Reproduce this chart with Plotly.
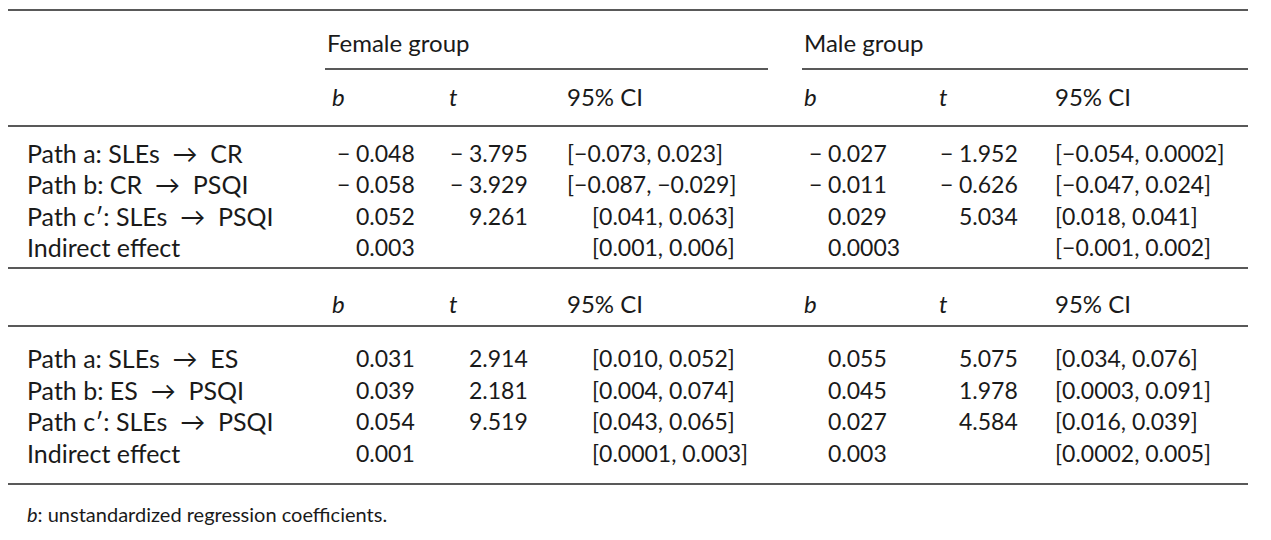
import plotly.graph_objects as go

row_labels_1 = ["Path a: SLEs  →  CR", "Path b: CR  →  PSQI", "Path c′: SLEs  →  PSQI", "Indirect effect"]
row_labels_2 = ["Path a: SLEs  →  ES", "Path b: ES  →  PSQI", "Path c′: SLEs  →  PSQI", "Indirect effect"]
f_b1 = ["−0.048", "−0.058", "0.052", "0.003"]
f_t1 = ["−3.795", "−3.929", "9.261", ""]
f_ci1 = ["[−0.073, 0.023]", "[−0.087, −0.029]", "[0.041, 0.063]", "[0.001, 0.006]"]
m_b1 = ["−0.027", "−0.011", "0.029", "0.0003"]
m_t1 = ["−1.952", "−0.626", "5.034", ""]
m_ci1 = ["[−0.054, 0.0002]", "[−0.047, 0.024]", "[0.018, 0.041]", "[−0.001, 0.002]"]
f_b2 = ["0.031", "0.039", "0.054", "0.001"]
f_t2 = ["2.914", "2.181", "9.519", ""]
f_ci2 = ["[0.010, 0.052]", "[0.004, 0.074]", "[0.043, 0.065]", "[0.0001, 0.003]"]
m_b2 = ["0.055", "0.045", "0.027", "0.003"]
m_t2 = ["5.075", "1.978", "4.584", ""]
m_ci2 = ["[0.034, 0.076]", "[0.0003, 0.091]", "[0.016, 0.039]", "[0.0002, 0.005]"]
headers = ["b", "t", "95% CI"]
groups = ["Female group", "Male group"]
footnote = "<i>b</i>: unstandardized regression coefficients."

FONT = dict(family="Lato, Open Sans, sans-serif", size=23, color="#1a1a1a")
ann = []
def txt(x, y, s, anchor="left", size=23):
    if s:
        ann.append(dict(x=x, y=y, text=s, xref="x", yref="y", showarrow=False,
                        xanchor=anchor, yanchor="middle", font=dict(FONT, size=size)))

def num(x, y, s):
    if not s:
        return
    if s.startswith("−"):
        txt(x - 2, y, "−", "right")
        s = s[1:]
    txt(x, y, s)

shapes = []
def hline(x0, x1, y, w=1.5):
    shapes.append(dict(type="line", xref="x", yref="y", x0=x0, x1=x1, y0=y, y1=y,
                       line=dict(color="#222", width=w)))

hline(0, 1248, 10); hline(325, 768, 69); hline(802, 1248, 69)
hline(0, 1248, 126); hline(0, 1248, 268); hline(0, 1248, 326); hline(0, 1248, 484)

txt(325, 42, groups[0], size=24); txt(802, 42, groups[1], size=24)
for hy in (96, 303):
    for x, h in zip([330, 447, 565, 802, 937, 1053], headers * 2):
        txt(x, hy, "<i>%s</i>" % h if h != "95% CI" else h, size=24)

def block(ys, labels, fb, ft, fci, mb, mt, mci, second):
    for i, y in enumerate(ys):
        txt(25, y, labels[i], size=25)
        num(354, y, fb[i]); num(467, y, ft[i])
        fx = 590 if (second or not fci[i].startswith("[−")) else 565
        txt(fx, y, fci[i])
        num(826, y, mb[i]); num(957, y, mt[i])
        txt(1053, y, mci[i])

block([153, 184, 216, 247], row_labels_1, f_b1, f_t1, f_ci1, m_b1, m_t1, m_ci1, False)
block([358, 390, 421, 453], row_labels_2, f_b2, f_t2, f_ci2, m_b2, m_t2, m_ci2, True)

ann.append(dict(x=25, y=514, text=footnote, xref="x", yref="y", showarrow=False,
                xanchor="left", yanchor="middle", font=dict(FONT, size=20)))

fig = go.Figure()
fig.update_layout(width=1271, height=540, margin=dict(l=0, r=0, t=0, b=0),
                  paper_bgcolor="white", plot_bgcolor="white",
                  xaxis=dict(range=[8, 1279], visible=False, fixedrange=True),
                  yaxis=dict(range=[548, 8], visible=False, fixedrange=True),
                  annotations=ann, shapes=shapes, showlegend=False)
fig.write_html("out.html", config={"displayModeBar": False})
